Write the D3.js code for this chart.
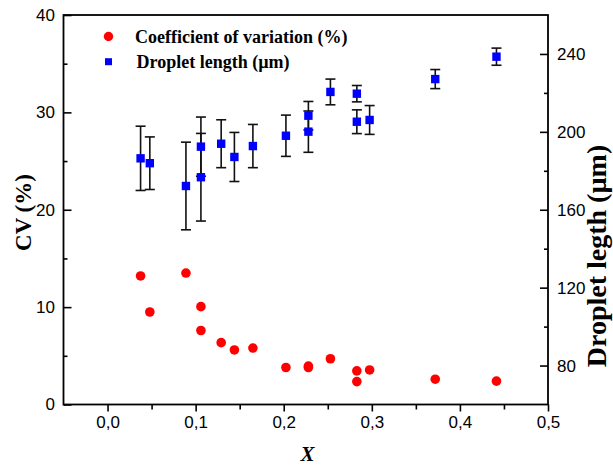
<!DOCTYPE html>
<html>
<head>
<meta charset="utf-8">
<script src="https://cdn.jsdelivr.net/npm/d3@7"></script>
<style>
	body { margin: 0; background: white; }
	svg { display: block; }
</style>
</head>
<body>
<div id="vizContainer"></div>
<script>
let w = 613;
let h = 466;

// x = molar fraction X, two series share it
let xValues = [0.0375, 0.048, 0.089, 0.106, 0.106, 0.129, 0.144, 0.165, 0.2025, 0.228, 0.228, 0.253, 0.283, 0.283, 0.2975, 0.372, 0.4415];
let cvValues = [13.2, 9.5, 13.5, 10.05, 7.6, 6.35, 5.6, 5.8, 3.8, 3.95, 3.8, 4.7, 3.45, 2.35, 3.55, 2.6, 2.4];
let lengthValues = [186.4, 183.9, 172.2, 192.4, 176.7, 193.9, 187.1, 192.7, 198.0, 208.3, 200.1, 220.5, 219.6, 205.2, 206.1, 227.1, 238.6];
let lengthErrors = [16.5, 13.5, 22.5, 15.2, 22.5, 12.3, 12.6, 11.1, 10.6, 7.3, 10.6, 6.6, 4.2, 6.1, 7.4, 4.9, 4.4];

let xTicks = [0, 0.1, 0.2, 0.3, 0.4, 0.5];
let cvTicks = [0, 10, 20, 30, 40];
let lengthTicks = [80, 120, 160, 200, 240];
let legendLabels = ["Coefficient of variation (%)", "Droplet length (\u00b5m)"];

let plotLeft = 63.5;
let plotRight = 548;
let plotTop = 15;
let plotBottom = 404.5;

let serif = "'Liberation Serif', 'Times New Roman', serif";
let sans = "'Liberation Sans', Arial, sans-serif";

let viz = d3.select('#vizContainer').append('svg')
	.attr('width', w)
	.attr('height', h)
	.style('background-color', 'white')
	;

let xScale = d3.scaleLinear().domain([-0.05, 0.5]).range([plotLeft, plotRight]);
let cvScale = d3.scaleLinear().domain([0, 40]).range([plotBottom, plotTop]);
let lenScale = d3.scaleLinear().domain([60, 260]).range([plotBottom, plotTop]);

let points = xValues.map(function(x, i){
	return {x: x, cv: cvValues[i], len: lengthValues[i], err: lengthErrors[i]};
});

function isMajorX(d){
	let r = Math.round(d * 100) / 100;
	return xTicks.some(function(t){ return Math.abs(t - r) < 1e-9; });
}

// axes
let xMinor = d3.range(0, 0.5001, 0.05);
let xAxis = d3.axisBottom(xScale).tickValues(xMinor).tickSize(7).tickPadding(4)
	.tickFormat(function(d){
		return isMajorX(d) ? d3.format(".1f")(d).replace(".", ",") : "";
	});
let xG = viz.append('g')
	.attr('transform', 'translate(0,' + plotBottom + ')')
	.call(xAxis);
xG.selectAll('.tick line').attr('y2', function(d){ return isMajorX(d) ? 7 : 5; });

let cvAxis = d3.axisLeft(cvScale).tickValues(d3.range(0, 40.1, 5)).tickSize(-8).tickPadding(16)
	.tickFormat(function(d){ return cvTicks.indexOf(d) >= 0 ? d : ""; });
let cvG = viz.append('g')
	.attr('transform', 'translate(' + plotLeft + ',0)')
	.call(cvAxis);
cvG.selectAll('.tick line').attr('x2', function(d){ return d % 10 === 0 ? 8 : 4; });

let lenAxis = d3.axisRight(lenScale).tickValues(d3.range(80, 240.1, 20)).tickSize(-8).tickPadding(17)
	.tickFormat(function(d){ return lengthTicks.indexOf(d) >= 0 ? d : ""; });
let lenG = viz.append('g')
	.attr('transform', 'translate(' + plotRight + ',0)')
	.call(lenAxis);
lenG.selectAll('.tick line').attr('x2', function(d){ return d % 40 === 0 ? -8 : -4; });

viz.selectAll('.domain').remove();
viz.selectAll('.tick line').attr('stroke', 'black').attr('stroke-width', 1.6);
viz.selectAll('.tick text')
	.attr('font-family', sans)
	.attr('font-size', 17)
	.attr('fill', 'black')
	;
cvG.selectAll('.tick text').attr('x', -8.5);
lenG.selectAll('.tick text').attr('x', 9);

// frame
viz.append('rect')
	.attr('x', plotLeft)
	.attr('y', plotTop)
	.attr('width', plotRight - plotLeft)
	.attr('height', plotBottom - plotTop)
	.attr('fill', 'none')
	.attr('stroke', 'black')
	.attr('stroke-width', 1.8)
	;

// error bars
let errG = viz.append('g').attr('class', 'errors');
let bars = errG.selectAll('.err').data(points).enter().append('g').attr('class', 'err');
bars.append('line')
	.attr('x1', function(d){ return xScale(d.x); })
	.attr('x2', function(d){ return xScale(d.x); })
	.attr('y1', function(d){ return lenScale(d.len + d.err); })
	.attr('y2', function(d){ return lenScale(d.len - d.err); })
	;
bars.append('line')
	.attr('x1', function(d){ return xScale(d.x) - 5; })
	.attr('x2', function(d){ return xScale(d.x) + 5; })
	.attr('y1', function(d){ return lenScale(d.len + d.err); })
	.attr('y2', function(d){ return lenScale(d.len + d.err); })
	;
bars.append('line')
	.attr('x1', function(d){ return xScale(d.x) - 5; })
	.attr('x2', function(d){ return xScale(d.x) + 5; })
	.attr('y1', function(d){ return lenScale(d.len - d.err); })
	.attr('y2', function(d){ return lenScale(d.len - d.err); })
	;
bars.selectAll('line').attr('stroke', '#111').attr('stroke-width', 1.6);

// squares
viz.append('g').selectAll('.sq').data(points).enter().append('rect')
	.attr('class', 'sq')
	.attr('x', function(d){ return xScale(d.x) - 4.2; })
	.attr('y', function(d){ return lenScale(d.len) - 4.2; })
	.attr('width', 8.4)
	.attr('height', 8.4)
	.attr('fill', '#0000ff')
	;

// circles
viz.append('g').selectAll('.dot').data(points).enter().append('circle')
	.attr('class', 'dot')
	.attr('cx', function(d){ return xScale(d.x); })
	.attr('cy', function(d){ return cvScale(d.cv); })
	.attr('r', 4.8)
	.attr('fill', '#ff0000')
	;

// legend
let legend = viz.append('g');
legend.append('circle').attr('cx', 108.5).attr('cy', 36.5).attr('r', 4.7).attr('fill', '#ff0000');
legend.append('rect').attr('x', 105).attr('y', 58.2).attr('width', 7).attr('height', 7).attr('fill', '#0000ff');
legend.selectAll('text').data(legendLabels).enter().append('text')
	.attr('x', function(d, i){ return i === 0 ? 135 : 136.5; })
	.attr('y', function(d, i){ return i === 0 ? 42.5 : 68; })
	.attr('font-family', serif)
	.attr('font-weight', 'bold')
	.attr('font-size', 18)
	.text(function(d){ return d; })
	;

// axis titles
viz.append('text')
	.attr('transform', 'translate(31,212.5) rotate(-90)')
	.attr('text-anchor', 'middle')
	.attr('font-family', serif)
	.attr('font-weight', 'bold')
	.attr('font-size', 23)
	.text('CV (%)')
	;

viz.append('text')
	.attr('transform', 'translate(606,256) rotate(-90)')
	.attr('text-anchor', 'middle')
	.attr('font-family', serif)
	.attr('font-weight', 'bold')
	.attr('font-size', 28)
	.text('Droplet legth (\u00b5m)')
	;

viz.append('text')
	.attr('x', 307.5)
	.attr('y', 461)
	.attr('text-anchor', 'middle')
	.attr('font-family', serif)
	.attr('font-weight', 'bold')
	.attr('font-style', 'italic')
	.attr('font-size', 21)
	.text('X')
	;
</script>
</body>
</html>
